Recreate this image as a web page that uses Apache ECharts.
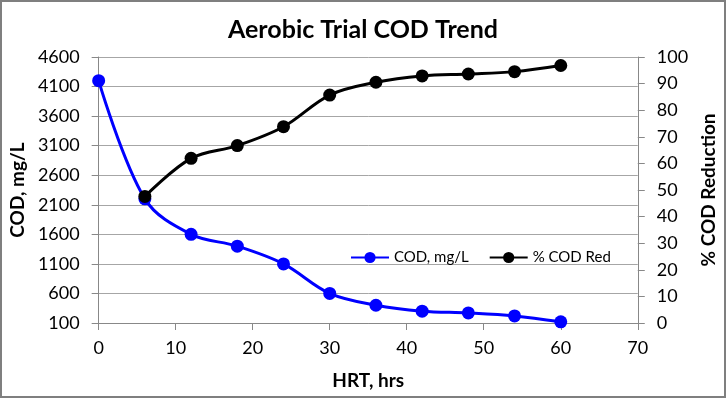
<!DOCTYPE html>
<html><head><meta charset="utf-8">
<script src="https://cdn.jsdelivr.net/npm/echarts@6/dist/echarts.min.js"></script>
<style>html,body{margin:0;padding:0;background:#fff}#c{width:726px;height:398px}</style>
</head><body><div id="c"></div>
<script>
const hrt = [0, 6, 12, 18, 24, 30, 36, 42, 48, 54, 60];
const codValues = [4200, 2200, 1600, 1400, 1100, 600, 400, 300, 270, 220, 120];
const redHrt = [6, 12, 18, 24, 30, 36, 42, 48, 54, 60];
const redValues = [47.6, 61.9, 66.7, 73.8, 85.7, 90.5, 92.9, 93.6, 94.5, 96.8];
const titleText = 'Aerobic Trial COD Trend';
const font = 'Lato, "Open Sans", sans-serif';
const plain = v => String(v);

const chart = echarts.init(document.getElementById('c'));
chart.setOption({
  animation: false,
  backgroundColor: '#fff',
  textStyle: {fontFamily: font},
  title: {text: titleText, left: 'center', top: 12,
    textStyle: {fontSize: 25, fontWeight: 'bold', color: '#000', fontFamily: font}},
  graphic: [{type: 'rect', shape: {x: 1, y: 1, width: 724, height: 396},
    style: {fill: 'none', stroke: '#7f7f7f', lineWidth: 2}, silent: true}],
  legend: {left: 345, top: 245, itemWidth: 38, itemHeight: 14, itemGap: 20,
    textStyle: {fontSize: 15, color: '#000', fontFamily: font},
    data: ['COD, mg/L', '% COD Red']},
  grid: {left: 97, right: 85, top: 57, bottom: 75},
  xAxis: {type: 'value', min: 0, max: 70, interval: 10,
    name: 'HRT, hrs', nameLocation: 'middle', nameGap: 48,
    nameTextStyle: {fontSize: 19, fontWeight: 'bold', color: '#000'},
    axisLine: {onZero: false, lineStyle: {color: '#888'}},
    axisTick: {show: true, length: 7, lineStyle: {color: '#888'}},
    axisLabel: {fontSize: 18, color: '#000', margin: 16, formatter: plain},
    splitLine: {show: false}},
  yAxis: [
    {type: 'value', min: 100, max: 4600, interval: 500, position: 'left',
      name: 'COD, mg/L', nameLocation: 'middle', nameGap: 68, nameRotate: 90,
      nameTextStyle: {fontSize: 19, fontWeight: 'bold', color: '#000'},
      axisLine: {show: true, lineStyle: {color: '#888'}},
      axisTick: {show: true, length: 7, lineStyle: {color: '#888'}},
      axisLabel: {fontSize: 18, color: '#000', margin: 19, formatter: plain},
      splitLine: {show: true, lineStyle: {color: '#a6a6a6', width: 1}}},
    {type: 'value', min: 0, max: 100, interval: 10, position: 'right',
      name: '% COD Reduction', nameLocation: 'middle', nameGap: 56, nameRotate: 90,
      nameTextStyle: {fontSize: 19, fontWeight: 'bold', color: '#000'},
      axisLine: {show: true, lineStyle: {color: '#888'}},
      axisTick: {show: true, length: 7, lineStyle: {color: '#888'}},
      axisLabel: {fontSize: 18, color: '#000', margin: 19, formatter: plain},
      splitLine: {show: false}}
  ],
  series: [
    {name: 'COD, mg/L', type: 'line', yAxisIndex: 0, smooth: 0.35,
      data: hrt.map((h, i) => [h, codValues[i]]),
      symbol: 'circle', symbolSize: 13,
      lineStyle: {color: '#0000ff', width: 3}, itemStyle: {color: '#0000ff'}},
    {name: '% COD Red', type: 'line', yAxisIndex: 1, smooth: 0.35,
      data: redHrt.map((h, i) => [h, redValues[i]]),
      symbol: 'circle', symbolSize: 13,
      lineStyle: {color: '#000', width: 3}, itemStyle: {color: '#000'}}
  ]
});
</script></body></html>
